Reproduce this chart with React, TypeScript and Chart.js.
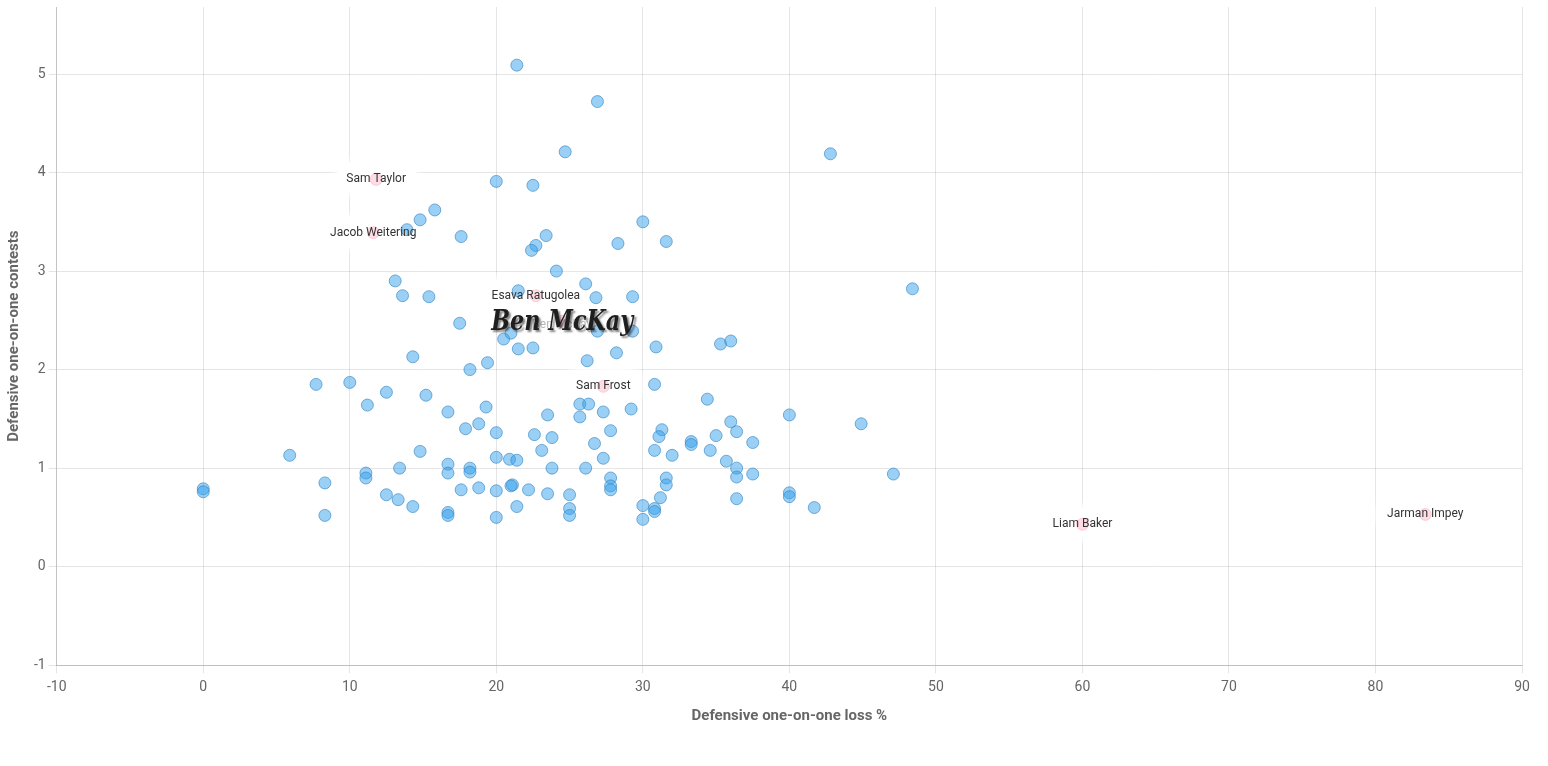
import React, { useEffect, useRef } from "react";
import { Chart, registerables } from "chart.js";

Chart.register(...registerables);

// Defensive one-on-one loss % (x) and contests (y) for unlabelled players
const lossPct = [
  21.4, 26.9, 24.7, 42.8, 20.0, 22.5, 15.8, 14.8, 13.9, 17.6,
  23.4, 22.7, 22.4, 30.0, 28.3, 31.6, 24.1, 26.1, 13.1, 13.6,
  15.4, 21.5, 26.8, 29.3, 48.4, 17.5, 20.5, 21.0, 21.5, 22.5,
  19.4, 18.2, 14.3, 26.2, 28.2, 29.3, 26.9, 30.9, 35.3, 36.0,
  30.8, 34.4, 7.7, 10.0, 12.5, 15.2, 11.2, 16.7, 19.3, 17.9,
  18.8, 20.0, 14.8, 5.9, 20.0, 13.4, 11.1, 11.1, 16.7, 16.7,
  18.2, 18.2, 0.0, 0.0, 8.3, 12.5, 13.3, 14.3, 17.6, 18.8,
  20.0, 8.3, 16.7, 16.7, 20.0, 23.5, 25.7, 25.7, 26.3, 27.3,
  29.2, 40.0, 22.6, 23.8, 23.1, 27.8, 26.7, 27.3, 20.9, 21.4,
  23.8, 26.1, 31.3, 31.1, 30.8, 32.0, 33.3, 33.3, 35.0, 36.0,
  36.4, 37.5, 34.6, 35.7, 36.4, 36.4, 37.5, 36.4, 40.0, 40.0,
  21.1, 21.0, 22.2, 23.5, 25.0, 25.0, 25.0, 21.4, 27.8, 27.8,
  27.8, 31.6, 31.6, 31.2, 30.0, 30.8, 30.8, 30.0, 44.9, 47.1,
  41.7,
];
const contests = [
  5.09, 4.72, 4.21, 4.19, 3.91, 3.87, 3.62, 3.52, 3.42, 3.35,
  3.36, 3.26, 3.21, 3.50, 3.28, 3.30, 3.00, 2.87, 2.90, 2.75,
  2.74, 2.80, 2.73, 2.74, 2.82, 2.47, 2.31, 2.37, 2.21, 2.22,
  2.07, 2.00, 2.13, 2.09, 2.17, 2.39, 2.39, 2.23, 2.26, 2.29,
  1.85, 1.70, 1.85, 1.87, 1.77, 1.74, 1.64, 1.57, 1.62, 1.40,
  1.45, 1.36, 1.17, 1.13, 1.11, 1.00, 0.95, 0.90, 1.04, 0.95,
  1.00, 0.96, 0.79, 0.76, 0.85, 0.73, 0.68, 0.61, 0.78, 0.80,
  0.77, 0.52, 0.55, 0.52, 0.50, 1.54, 1.52, 1.65, 1.65, 1.57,
  1.60, 1.54, 1.34, 1.31, 1.18, 1.38, 1.25, 1.10, 1.09, 1.08,
  1.00, 1.00, 1.39, 1.32, 1.18, 1.13, 1.27, 1.24, 1.33, 1.47,
  1.37, 1.26, 1.18, 1.07, 1.00, 0.91, 0.94, 0.69, 0.75, 0.71,
  0.83, 0.82, 0.78, 0.74, 0.73, 0.59, 0.52, 0.61, 0.90, 0.82,
  0.78, 0.90, 0.83, 0.70, 0.62, 0.59, 0.56, 0.48, 1.45, 0.94,
  0.60,
];

// Labelled players
const namedPlayers = [
  "Sam Taylor",
  "Jacob Weitering",
  "Esava Ratugolea",
  "Ben McKay",
  "Sam Frost",
  "Liam Baker",
  "Jarman Impey",
];
const namedLoss = [11.8, 11.6, 22.7, 24.5, 27.3, 60.0, 83.4];
const namedContests = [3.93, 3.39, 2.75, 2.49, 1.83, 0.43, 0.53];
const featuredPlayer = "Ben McKay";

const xTitle = "Defensive one-on-one loss %";
const yTitle = "Defensive one-on-one contests";
const X_MIN = -10;
const X_MAX = 90;
const X_STEP = 10;
const Y_MIN = -1;
const Y_MAX = 5.68;
const Y_STEP = 1;

const labelPlugin = {
  id: "playerLabels",
  beforeDatasetDraw(chart: any, args: any) {
    if (args.index !== 1) return;
    const meta = chart.getDatasetMeta(1);
    const ctx = chart.ctx;
    ctx.save();
    ctx.font = "12px Roboto";
    ctx.textAlign = "center";
    ctx.textBaseline = "middle";
    ctx.lineJoin = "round";
    meta.data.forEach((el: any, i: number) => {
      const name = namedPlayers[i];
      if (name === featuredPlayer) return;
      ctx.shadowColor = "rgba(255,255,255,1)";
      ctx.shadowBlur = 10;
      ctx.strokeStyle = "rgba(255,255,255,0.9)";
      ctx.lineWidth = 20;
      ctx.strokeText(name, el.x, el.y);
      ctx.strokeText(name, el.x, el.y);
    });
    ctx.restore();
  },
  afterDatasetsDraw(chart: any) {
    const meta = chart.getDatasetMeta(1);
    const ctx = chart.ctx;
    ctx.save();
    ctx.textAlign = "center";
    ctx.textBaseline = "middle";
    meta.data.forEach((el: any, i: number) => {
      const name = namedPlayers[i];
      ctx.font = "12px Roboto";
      if (name === featuredPlayer) {
        ctx.fillStyle = "rgba(90,90,90,0.45)";
        ctx.fillText(name, el.x, el.y + 4);
        // big stylised overlay
        ctx.save();
        ctx.font = "italic bold 28px 'DejaVu Serif'";
        const w = ctx.measureText(name).width;
        const target = 142;
        ctx.translate(el.x, el.y + 1);
        ctx.scale(target / w, 1);
        ctx.shadowColor = "rgba(0,0,0,0.5)";
        ctx.shadowOffsetX = 2;
        ctx.shadowOffsetY = 2;
        ctx.shadowBlur = 2;
        ctx.fillStyle = "#1e1e1e";
        ctx.fillText(name, 0, 0);
        ctx.restore();
      } else {
        ctx.fillStyle = "#333";
        ctx.fillText(name, el.x, el.y);
      }
    });
    ctx.restore();
  },
};

export default function App() {
  const ref = useRef<HTMLCanvasElement | null>(null);

  useEffect(() => {
    if (!ref.current) return;
    const main = lossPct.map((x, i) => ({ x, y: contests[i] }));
    const named = namedLoss.map((x, i) => ({ x, y: namedContests[i] }));
    const chart = new Chart(ref.current, {
      type: "scatter",
      data: {
        datasets: [
          {
            label: "Players",
            data: main,
            backgroundColor: "rgba(54,162,235,0.5)",
            borderColor: "rgba(55,135,195,0.65)",
            borderWidth: 1,
            pointRadius: 6,
          },
          {
            label: "Named",
            data: named,
            backgroundColor: "rgba(255,99,132,0.22)",
            borderColor: "rgba(255,99,132,0.25)",
            borderWidth: 1,
            pointRadius: 6,
          },
        ],
      },
      options: {
        animation: false,
        responsive: true,
        maintainAspectRatio: false,
        layout: { padding: { left: 5, right: 26, top: 5, bottom: 37 } },
        plugins: {
          legend: { display: false },
          tooltip: { enabled: false },
        },
        scales: {
          x: {
            type: "linear",
            min: X_MIN,
            max: X_MAX,
            ticks: {
              stepSize: X_STEP,
              padding: 6,
              color: "#666",
              font: { family: "Roboto", size: 14 },
            },
            grid: { color: "rgba(0,0,0,0.1)" },
            border: { color: "rgba(0,0,0,0.17)" },
            title: {
              display: true,
              text: xTitle,
              color: "#666",
              font: { family: "Roboto", size: 15, weight: "bold" },
              padding: { top: 5, bottom: 4 },
            },
          },
          y: {
            type: "linear",
            min: Y_MIN,
            max: Y_MAX,
            ticks: {
              stepSize: Y_STEP,
              includeBounds: false,
              color: "#666",
              font: { family: "Roboto", size: 14 },
            },
            grid: { color: "rgba(0,0,0,0.1)" },
            border: { color: "rgba(0,0,0,0.15)" },
            title: {
              display: true,
              text: yTitle,
              color: "#666",
              font: { family: "Roboto", size: 15, weight: "bold" },
              padding: { top: 0, bottom: 8 },
            },
            afterFit: (s: any) => {
              s.paddingTop = 0;
            },
          },
        },
      },
      plugins: [labelPlugin],
    } as any);
    return () => chart.destroy();
  }, []);

  return (
    <div
      style={{
        position: "absolute",
        left: 0,
        top: 0,
        width: 1548,
        height: 766,
        background: "#fff",
      }}
    >
      <canvas ref={ref} />
    </div>
  );
}
